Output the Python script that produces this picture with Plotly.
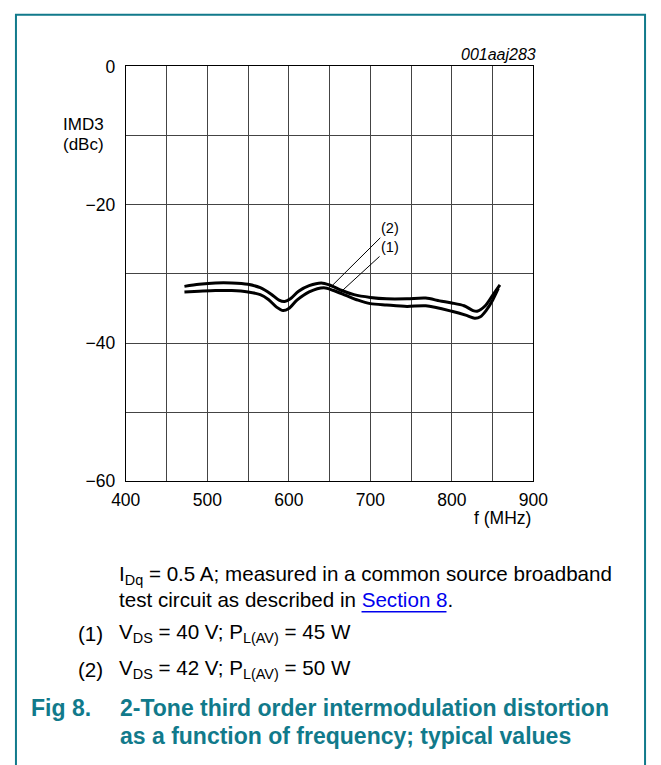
import plotly.graph_objects as go

# ---- data ----
freq_2 = [472, 490, 510, 530, 550, 565, 578, 588, 595, 602, 612, 625, 640, 650, 665, 680,
          700, 720, 745, 768, 785, 800, 815, 826, 831, 841, 850, 859]
imd3_2 = [-31.8, -31.5, -31.3, -31.3, -31.5, -32.0, -32.9, -33.8, -34.0, -33.6, -32.5, -31.7,
          -31.3, -31.6, -32.4, -33.0, -33.4, -33.6, -33.6, -33.5, -33.9, -34.2, -34.6, -35.3,
          -35.4, -34.6, -33.1, -31.6]

freq_1 = [472, 490, 510, 530, 550, 565, 575, 585, 593, 600, 610, 625, 643, 655, 670, 685,
          700, 720, 745, 768, 800, 818, 828, 835, 842, 850, 857]
imd3_1 = [-32.6, -32.5, -32.4, -32.4, -32.6, -33.0, -33.7, -34.8, -35.3, -35.0, -33.8, -32.6,
          -32.0, -32.4, -33.1, -33.8, -34.3, -34.5, -34.7, -34.6, -35.4, -36.0, -36.4, -36.2,
          -35.3, -33.8, -32.1]

x_ticks = [400, 450, 500, 550, 600, 650, 700, 750, 800, 850, 900]
x_labels = ["400", "", "500", "", "600", "", "700", "", "800", "", "900"]
y_ticks = [0, -10, -20, -30, -40, -50, -60]
y_labels = ["0", "", "\u221220", "", "\u221240", "", "\u221260"]

W, H = 661, 765
TEAL = "#117a8b"
FONT = "Liberation Sans, Arial, sans-serif"


def px(x):
    return x / W


def py(y):
    return 1 - y / H


fig = go.Figure()
for fx, fy in [(freq_1, imd3_1), (freq_2, imd3_2)]:
    fig.add_trace(go.Scatter(x=fx, y=fy, mode="lines",
                             line=dict(color="black", width=3, shape="spline", smoothing=0.8),
                             showlegend=False, hoverinfo="skip"))

axis_common = dict(showline=True, linecolor="black", linewidth=1, mirror=True,
                   showgrid=True, gridcolor="#444444", gridwidth=1, zeroline=False,
                   ticks="outside", tickcolor="rgba(0,0,0,0)",
                   tickfont=dict(family=FONT, size=17.5, color="black"))

fig.update_xaxes(range=[400, 900], tickmode="array", tickvals=x_ticks, ticktext=x_labels,
                 domain=[px(116), px(543)], ticklen=3, **axis_common)
fig.update_yaxes(range=[-60, 0], tickmode="array", tickvals=y_ticks, ticktext=y_labels,
                 domain=[py(484), py(58)], ticklen=6, **axis_common)

ann = []


def text(x, y, s, size=17, color="black", xanchor="left", bold=False, italic=False):
    if bold:
        s = "<b>" + s + "</b>"
    if italic:
        s = "<i>" + s + "</i>"
    ann.append(dict(x=px(x), y=py(y), xref="paper", yref="paper", text=s, showarrow=False,
                    xanchor=xanchor, yanchor="middle",
                    font=dict(family=FONT, size=size, color=color)))


text(548, 46, "001aaj283", size=16, xanchor="right", italic=True)
text(48, 118, "IMD3", size=17)
text(48, 138, "(dBc)", size=17)
text(543, 522, "f (MHz)", size=17.5, xanchor="right")

BS = 20.6
text(107, 580, "I<sub>Dq</sub> = 0.5 A; measured in a common source broadband", size=BS)
text(107, 605, "test circuit as described in <span style='color:#0000ee'>Section 8</span>.", size=BS)
text(64, 640, "(1)", size=BS)
text(107, 640, "V<sub>DS</sub> = 40 V; P<sub>L(AV)</sub> = 45 W", size=BS)
text(64, 677, "(2)", size=BS)
text(107, 677, "V<sub>DS</sub> = 42 V; P<sub>L(AV)</sub> = 50 W", size=BS)
CS = 23
text(15, 717, "Fig 8.", size=CS, color=TEAL, bold=True)
text(108, 717, "2-Tone third order intermodulation distortion", size=CS, color=TEAL, bold=True)
text(108, 745, "as a function of frequency; typical values", size=CS, color=TEAL, bold=True)

# curve labels with leader lines
for lab, xt, yt, xc, yc in [("(2)", 724, -23.4, 654, -31.6), ("(1)", 724, -26.1, 663, -32.7)]:
    ann.append(dict(x=xc, y=yc, xref="x", yref="y", ax=xt, ay=yt, axref="x", ayref="y",
                    text=lab, showarrow=True, arrowhead=0, arrowwidth=1, arrowcolor="black",
                    font=dict(family=FONT, size=14.5, color="black"), standoff=0))

fig.update_layout(
    width=W, height=H, autosize=False, margin=dict(l=0, r=0, t=0, b=0, pad=0),
    paper_bgcolor="white", plot_bgcolor="white",
    annotations=ann,
    shapes=[
        dict(type="rect", xref="paper", yref="paper", x0=px(1), x1=px(660), y0=-0.05, y1=py(5),
             line=dict(color=TEAL, width=2), fillcolor="rgba(0,0,0,0)"),
        dict(type="line", xref="paper", yref="paper", x0=px(363), x1=px(452),
             y0=py(618), y1=py(618), line=dict(color="#0000ee", width=1.5)),
    ],
)

fig.write_html("out.html",
               config={"responsive": False, "displayModeBar": False},
               post_script="document.body.style.margin='0';document.body.style.overflow='hidden';")
